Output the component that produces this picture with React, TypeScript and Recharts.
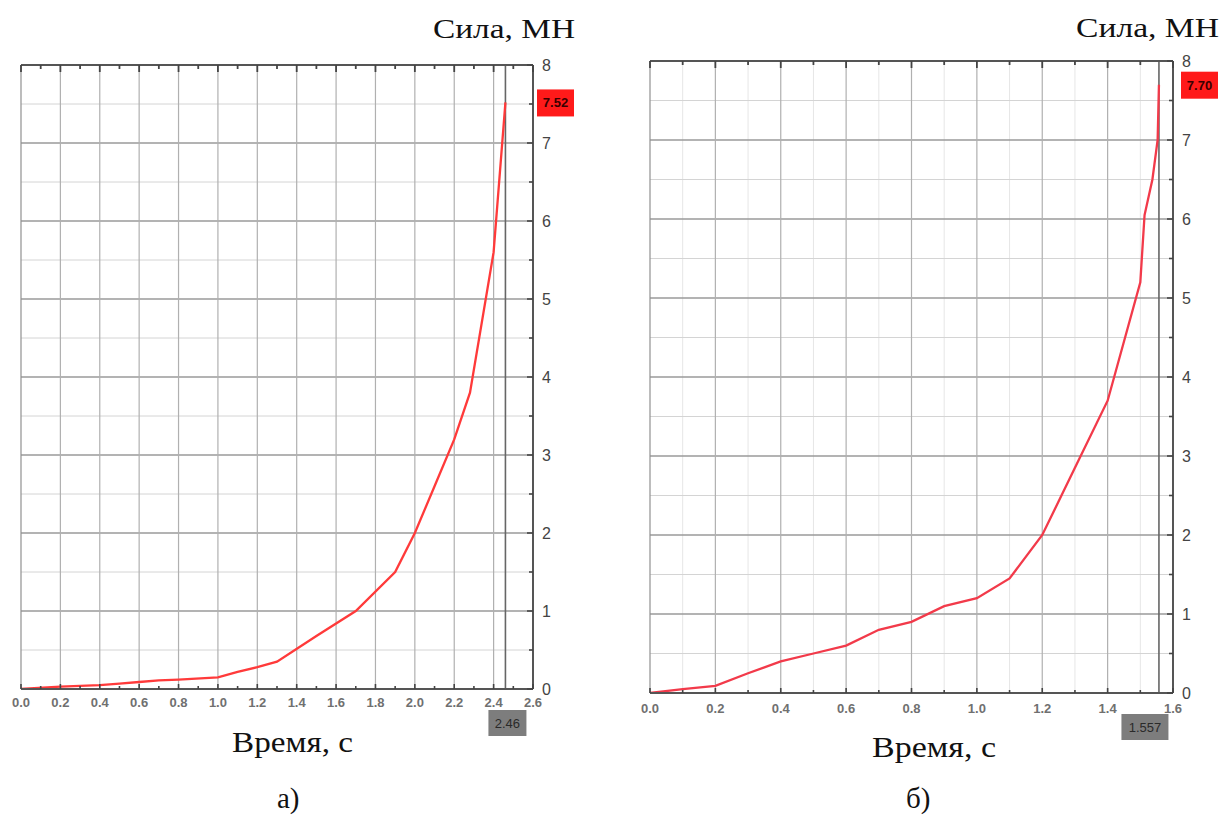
import React from "react";
import { LineChart, Line, XAxis, YAxis, ReferenceLine } from "recharts";

// ---- Data: chart а)
const timeA = [0, 0.2, 0.4, 0.5, 0.6, 0.7, 0.8, 1.0, 1.1, 1.2, 1.3, 1.5, 1.7, 1.9, 2.0, 2.1, 2.2, 2.28, 2.4, 2.46];
const forceA = [0, 0.03, 0.05, 0.07, 0.09, 0.11, 0.12, 0.15, 0.22, 0.28, 0.35, 0.68, 1.0, 1.5, 2.0, 2.6, 3.2, 3.8, 5.6, 7.52];
const xTicksA = [0, 0.1, 0.2, 0.3, 0.4, 0.5, 0.6, 0.7, 0.8, 0.9, 1.0, 1.1, 1.2, 1.3, 1.4, 1.5, 1.6, 1.7, 1.8, 1.9, 2.0, 2.1, 2.2, 2.3, 2.4, 2.5, 2.6];
const xGridA = [0, 0.2, 0.4, 0.6, 0.8, 1.0, 1.2, 1.4, 1.6, 1.8, 2.0, 2.2, 2.4];
const markerTimeA = 2.46;
const markerForceA = 7.52;

// ---- Data: chart б)
const timeB = [0, 0.1, 0.2, 0.3, 0.4, 0.5, 0.6, 0.7, 0.8, 0.9, 1.0, 1.1, 1.2, 1.3, 1.4, 1.5, 1.513, 1.537, 1.553, 1.557];
const forceB = [0, 0.05, 0.09, 0.25, 0.4, 0.5, 0.6, 0.8, 0.9, 1.1, 1.2, 1.45, 2.0, 2.85, 3.7, 5.2, 6.05, 6.5, 7.0, 7.7];
const xTicksB = [0, 0.1, 0.2, 0.3, 0.4, 0.5, 0.6, 0.7, 0.8, 0.9, 1.0, 1.1, 1.2, 1.3, 1.4, 1.5, 1.6];
const xGridB = [0, 0.2, 0.4, 0.6, 0.8, 1.0, 1.2, 1.4];
const xFaintB = [0.1, 0.3, 0.5, 0.7, 0.9, 1.1, 1.3, 1.5];
const markerTimeB = 1.557;
const markerForceB = 7.7;

// ---- Shared
const yTicks = [0, 0.5, 1, 1.5, 2, 2.5, 3, 3.5, 4, 4.5, 5, 5.5, 6, 6.5, 7, 7.5, 8];
const yMajor = [1, 2, 3, 4, 5, 6, 7];
const yMinor = [0.5, 1.5, 2.5, 3.5, 4.5, 5.5, 6.5, 7.5];

const yTitle = "Сила, МН";
const xTitle = "Время, с";

const buildData = (t: number[], f: number[]) => t.map((v, i) => ({ t: v, f: f[i] }));
const dataA = buildData(timeA, forceA);
const dataB = buildData(timeB, forceB);

const isMajorX = (v: number) => Math.round(v * 10) % 2 === 0;

const makeBottomTick = (labelDy: number) => (props: any) => {
  const { x, y, payload } = props;
  const v = payload.value as number;
  const major = isMajorX(v);
  return (
    <g>
      <line x1={x} x2={x} y1={y} y2={y - (major ? 5 : 3)} stroke="#444" strokeWidth={1.6} />
      {major && (
        <text
          x={x}
          y={y + labelDy}
          textAnchor="middle"
          fontFamily="Liberation Sans, Arial, sans-serif"
          fontWeight="bold"
          fontSize={13}
          fill="#707070"
        >
          {v.toFixed(1)}
        </text>
      )}
    </g>
  );
};

const TopTick = (props: any) => {
  const { x, y, payload } = props;
  const major = isMajorX(payload.value);
  return <line x1={x} x2={x} y1={y} y2={y + (major ? 7 : 4)} stroke="#444" strokeWidth={1.8} />;
};

const makeRightTick = (labelDx: number) => (props: any) => {
  const { x, y, payload } = props;
  const v = payload.value as number;
  const major = Number.isInteger(v);
  return (
    <g>
      <line x1={x} x2={x - (major ? 6 : 4)} y1={y} y2={y} stroke="#444" strokeWidth={1.6} />
      {major && (
        <text
          x={x + labelDx}
          y={y + 6}
          textAnchor="start"
          fontFamily="Liberation Sans, Arial, sans-serif"
          fontSize={16}
          fill="#444"
        >
          {v}
        </text>
      )}
    </g>
  );
};

const makeValueBox = (value: number, dx: number, w: number) => (props: any) => {
  const vb = props.viewBox || {};
  const x0 = (vb.x || 0) + (vb.width || 0) + dx;
  const yc = vb.y || 0;
  return (
    <g>
      <rect x={x0} y={yc - 13} width={w} height={27} fill="#ff1a1a" />
      <text
        x={x0 + w / 2}
        y={yc + 5}
        textAnchor="middle"
        fontFamily="Liberation Sans, Arial, sans-serif"
        fontWeight="bold"
        fontSize={13}
        fill="#3a0000"
      >
        {value.toFixed(2)}
      </text>
    </g>
  );
};

const makeTimeBox = (label: string, dx: number, w: number, dy: number) => (props: any) => {
  const vb = props.viewBox || {};
  const xc = (vb.x || 0) + dx;
  const yb = (vb.y || 0) + (vb.height || 0) + dy;
  return (
    <g>
      <rect x={xc - w / 2} y={yb} width={w} height={26} fill="#7d7d7d" />
      <text
        x={xc}
        y={yb + 18}
        textAnchor="middle"
        fontFamily="Liberation Sans, Arial, sans-serif"
        fontSize={13}
        fill="#2a2a2a"
      >
        {label}
      </text>
    </g>
  );
};

type PanelProps = {
  data: { t: number; f: number }[];
  width: number;
  height: number;
  margin: { top: number; right: number; bottom: number; left: number };
  xMax: number;
  xTicks: number[];
  xGrid: number[];
  xFaint: number[];
  markerTime: number;
  markerForce: number;
  markerLabel: string;
  timeBoxDx: number;
  timeBoxW: number;
  valueBoxDx: number;
  xLabelDy: number;
  yLabelDx: number;
  lineColor: string;
};

const Panel = (p: PanelProps) => (
  <LineChart width={p.width} height={p.height} data={p.data} margin={p.margin}>
    <XAxis
      dataKey="t"
      type="number"
      domain={[0, p.xMax]}
      allowDataOverflow
      ticks={p.xTicks}
      interval={0}
      tickSize={0}
      tickMargin={0}
      tickLine={false}
      height={30}
      axisLine={{ stroke: "#555", strokeWidth: 2 }}
      tick={makeBottomTick(p.xLabelDy)}
    />
    <XAxis
      xAxisId="top"
      dataKey="t"
      orientation="top"
      type="number"
      domain={[0, p.xMax]}
      allowDataOverflow
      ticks={p.xTicks}
      interval={0}
      tickSize={0}
      tickMargin={0}
      tickLine={false}
      height={1}
      axisLine={{ stroke: "#555", strokeWidth: 2 }}
      tick={TopTick}
    />
    <YAxis
      orientation="right"
      type="number"
      domain={[0, 8]}
      allowDataOverflow
      ticks={yTicks}
      interval={0}
      tickSize={0}
      tickMargin={0}
      tickLine={false}
      width={40}
      axisLine={{ stroke: "#555", strokeWidth: 2 }}
      tick={makeRightTick(p.yLabelDx)}
    />
    {p.xFaint.map((v) => (
      <ReferenceLine key={"xf" + v} x={v} stroke="#e6e6e6" strokeWidth={1} />
    ))}
    {yMinor.map((v) => (
      <ReferenceLine key={"ym" + v} y={v} stroke="#d4d4d4" strokeWidth={1} />
    ))}
    {yMajor.map((v) => (
      <ReferenceLine key={"yM" + v} y={v} stroke="#9a9a9a" strokeWidth={1.3} />
    ))}
    {p.xGrid.map((v) => (
      <ReferenceLine key={"xg" + v} x={v} stroke={v === 0 ? "#909090" : "#b0b0b0"} strokeWidth={1.2} />
    ))}
    <ReferenceLine y={8} stroke="#555" strokeWidth={2} />
    <ReferenceLine
      y={p.markerForce}
      stroke="none"
      label={makeValueBox(p.markerForce, p.valueBoxDx, 37)}
    />
    <ReferenceLine
      x={p.markerTime}
      stroke="#666"
      strokeWidth={1.6}
      label={makeTimeBox(p.markerLabel, p.timeBoxDx, p.timeBoxW, 21)}
    />
    <Line
      type="linear"
      dataKey="f"
      stroke={p.lineColor}
      strokeWidth={2.3}
      dot={false}
      isAnimationActive={false}
    />
  </LineChart>
);

const serif = "'Liberation Serif', 'Times New Roman', serif";

export default function App() {
  return (
    <div style={{ position: "absolute", left: 0, top: 0, width: 1223, height: 815, background: "#fff", overflow: "hidden" }}>
      <div style={{ position: "absolute", left: 0, top: 0 }}>
        <Panel
          data={dataA}
          width={600}
          height={815}
          margin={{ top: 64, right: 27, bottom: 96, left: 21 }}
          xMax={2.6}
          xTicks={xTicksA}
          xGrid={xGridA}
          xFaint={[]}
          markerTime={markerTimeA}
          markerForce={markerForceA}
          markerLabel="2.46"
          timeBoxDx={2}
          timeBoxW={38}
          valueBoxDx={4}
          xLabelDy={18}
          yLabelDx={9}
          lineColor="#ff3a3a"
        />
      </div>
      <div style={{ position: "absolute", left: 610, top: 0 }}>
        <Panel
          data={dataB}
          width={613}
          height={815}
          margin={{ top: 60, right: 10, bottom: 92, left: 40 }}
          xMax={1.6}
          xTicks={xTicksB}
          xGrid={xGridB}
          xFaint={xFaintB}
          markerTime={markerTimeB}
          markerForce={markerForceB}
          markerLabel="1.557"
          timeBoxDx={-14}
          timeBoxW={47}
          valueBoxDx={8}
          xLabelDy={20}
          yLabelDx={9}
          lineColor="#f23a4a"
        />
      </div>
      <svg width={1223} height={815} style={{ position: "absolute", left: 0, top: 0, pointerEvents: "none" }}>
        <text x={433} y={38} fontFamily={serif} fontSize={27} fill="#111" textLength={142} lengthAdjust="spacingAndGlyphs">
          {yTitle}
        </text>
        <text x={1076} y={37} fontFamily={serif} fontSize={27} fill="#111" textLength={143} lengthAdjust="spacingAndGlyphs">
          {yTitle}
        </text>
        <text x={232} y={752} fontFamily={serif} fontSize={29} fill="#111" textLength={121} lengthAdjust="spacingAndGlyphs">
          {xTitle}
        </text>
        <text x={872} y={757} fontFamily={serif} fontSize={29} fill="#111" textLength={124} lengthAdjust="spacingAndGlyphs">
          {xTitle}
        </text>
        <text x={277} y={808} fontFamily={serif} fontSize={29} fill="#111">
          а)
        </text>
        <text x={906} y={808} fontFamily={serif} fontSize={29} fill="#111">
          б)
        </text>
      </svg>
    </div>
  );
}
